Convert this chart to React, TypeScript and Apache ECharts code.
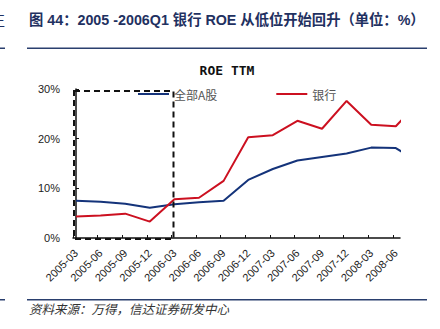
import React, { useEffect, useRef } from "react";
import * as echarts from "echarts";

const categories = [
  "2005-03", "2005-06", "2005-09", "2005-12", "2006-03", "2006-06", "2006-09",
  "2006-12", "2007-03", "2007-06", "2007-09", "2007-12", "2008-03", "2008-06",
];
// the last value of each series (2008-09) lies partly beyond the plotted axis and is clipped
const allAShares = [7.5, 7.3, 6.9, 6.1, 6.8, 7.2, 7.5, 11.7, 13.9, 15.6, 16.3, 17.0, 18.2, 18.1, 15.1];
const banks = [4.35, 4.55, 4.9, 3.3, 7.8, 8.1, 11.5, 20.3, 20.7, 23.6, 22.0, 27.6, 22.8, 22.5, 27.8];
const seriesNames = ["全部A股", "银行"];
const yTicks = [0, 10, 20, 30];

const headerTitle = "图 44：2005 -2006Q1 银行 ROE 从低位开始回升（单位：%）";
const chartTitle = "ROE TTM";
const sourceNote = "资料来源：万得，信达证券研发中心";

export default function App() {
  const ref = useRef<HTMLDivElement>(null);
  useEffect(() => {
    if (!ref.current) return;
    const chart = echarts.init(ref.current, null, { renderer: "svg" });
    const navy = "#14337a";
    const red = "#cc1020";
    const toPts = (arr: number[]) => arr.map((v, i) => [i, v]);
    chart.setOption({
      animation: false,
      backgroundColor: "#ffffff",
      textStyle: { fontFamily: "Liberation Sans, Arial, sans-serif" },
      legend: {
        data: seriesNames,
        left: 133,
        top: 83,
        icon: "rect",
        itemWidth: 31,
        itemHeight: 2,
        itemGap: 59,
        textStyle: { fontSize: 12, color: "#555", fontFamily: "Noto Sans CJK SC" },
      },
      grid: [
        { left: 76, right: 44.2, top: 89, bottom: 91 },
        { left: 73, right: 40, top: 89, bottom: 91 },
        { left: 73, right: 47.2, top: 89, bottom: 91 },
      ],
      xAxis: [
        {
          gridIndex: 0,
          type: "category",
          data: categories,
          boundaryGap: false,
          axisLine: { show: false },
          axisTick: { show: false },
          axisLabel: { rotate: 45, fontSize: 11, color: "#222", margin: 13, interval: 0 },
          splitLine: { show: false },
        },
        {
          gridIndex: 1,
          type: "value",
          min: -0.122,
          max: 13.17,
          axisLine: { show: true, lineStyle: { color: "#111", width: 1.5 } },
          axisTick: { show: false },
          axisLabel: { show: false },
          splitLine: { show: false },
        },
        {
          gridIndex: 2,
          type: "category",
          data: categories,
          boundaryGap: false,
          axisLine: { show: false },
          axisTick: { show: true, inside: true, length: 3, interval: 0, lineStyle: { color: "#111", width: 1 } },
          axisLabel: { show: false },
          splitLine: { show: false },
        },
      ],
      yAxis: [
        { gridIndex: 0, type: "value", show: false, min: 0, max: 30 },
        {
          gridIndex: 1,
          type: "value",
          min: yTicks[0],
          max: yTicks[yTicks.length - 1],
          interval: 10,
          axisLine: { show: true, lineStyle: { color: "#111", width: 1.5 } },
          axisTick: { show: true, inside: true, length: 3, lineStyle: { color: "#111" } },
          axisLabel: { formatter: "{value}%", fontSize: 11, color: "#222", margin: 13 },
          splitLine: { show: false },
        },
        { gridIndex: 2, type: "value", show: false, min: 0, max: 30 },
      ],
      series: [
        {
          name: seriesNames[0],
          type: "line",
          xAxisIndex: 1,
          yAxisIndex: 1,
          data: toPts(allAShares),
          symbol: "none",
          clip: true,
          lineStyle: { color: navy, width: 2 },
          itemStyle: { color: navy },
        },
        {
          name: seriesNames[1],
          type: "line",
          xAxisIndex: 1,
          yAxisIndex: 1,
          data: toPts(banks),
          symbol: "none",
          clip: true,
          lineStyle: { color: red, width: 2 },
          itemStyle: { color: red },
        },
      ],
      graphic: [
        {
          type: "text",
          left: -9,
          top: 13,
          style: { text: "正", fontSize: 14, fill: "#1f3161", fontFamily: "Noto Sans CJK SC" },
        },
        { type: "rect", shape: { x: 0, y: 47.5, width: 5, height: 1.5 }, style: { fill: "#2a3f6e" } },
        { type: "rect", shape: { x: 0, y: 299, width: 5, height: 1.5 }, style: { fill: "#2a3f6e" } },
        {
          type: "text",
          x: 29,
          y: 20,
          style: {
            text: headerTitle,
            fontSize: 14.3,
            fontWeight: "bold",
            fill: "#1f3161",
            fontFamily: "Liberation Sans, Noto Sans CJK SC, sans-serif",
            verticalAlign: "middle",
          },
        },
        { type: "rect", shape: { x: 27, y: 47.5, width: 400, height: 1.5 }, style: { fill: "#2a3f6e" } },
        { type: "rect", shape: { x: 27, y: 299, width: 400, height: 1.5 }, style: { fill: "#2a3f6e" } },
        {
          type: "text",
          x: 227,
          y: 70,
          style: {
            text: chartTitle,
            fontSize: 13,
            fontWeight: "bold",
            fill: "#111",
            fontFamily: "DejaVu Sans Mono, monospace",
            align: "center",
            verticalAlign: "middle",
          },
        },
        {
          type: "text",
          x: 29,
          y: 308,
          style: {
            text: sourceNote,
            fontSize: 12.5,
            fontStyle: "italic",
            fill: "#333",
            fontFamily: "Noto Sans CJK SC",
            verticalAlign: "middle",
          },
        },
        {
          type: "rect",
          z: 100,
          shape: { x: 74, y: 91, width: 99.5, height: 148 },
          style: { fill: "none", stroke: "#111", lineWidth: 2, lineDash: [6, 4] },
        },
      ],
    });
    return () => chart.dispose();
  }, []);
  return (
    <div
      ref={ref}
      style={{ position: "fixed", left: 0, top: 0, width: 440, height: 329 }}
    />
  );
}
